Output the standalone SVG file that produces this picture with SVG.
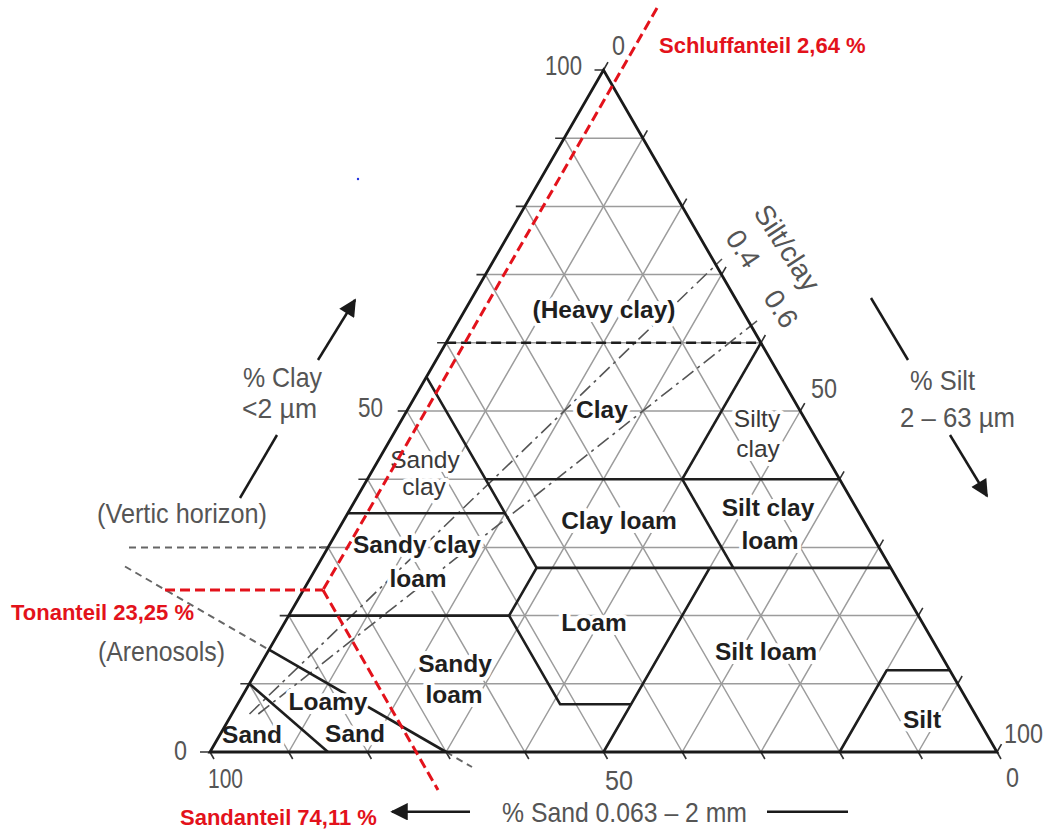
<svg xmlns="http://www.w3.org/2000/svg" width="1049" height="832" viewBox="0 0 1049 832">
<defs>
<style>
.grid{stroke:#9c9c9c;stroke-width:1.5;fill:none}
.tick{stroke:#333;stroke-width:1.6;fill:none}
.bnd{stroke:#1e1e1e;stroke-width:2.6;fill:none;stroke-linejoin:round}
.outline{stroke:#1a1a1a;stroke-width:2.8;fill:none;stroke-linejoin:miter}
.gdash{stroke:#666;stroke-width:2;stroke-dasharray:7 5;fill:none}
.dashdot{stroke:#555;stroke-width:1.6;stroke-dasharray:14 5 3 5;fill:none}
.red{stroke:#e3121b;stroke-width:3;stroke-dasharray:10 5;fill:none}
.arrow{stroke:#1a1a1a;stroke-width:2.5;fill:none}
.lbl{font-family:"Liberation Sans",Arial,sans-serif;font-weight:bold;font-size:24.5px;fill:#1f1f1f;text-anchor:middle;stroke:#fff;stroke-width:8;stroke-linejoin:round;paint-order:stroke}
.lblr{font-family:"Liberation Sans",Arial,sans-serif;font-size:24.5px;fill:#3a3a3a;text-anchor:middle;stroke:#fff;stroke-width:8;stroke-linejoin:round;paint-order:stroke}
.ax{font-family:"Liberation Sans",Arial,sans-serif;font-size:28px;fill:#555}
.rt{font-family:"Liberation Sans",Arial,sans-serif;font-weight:bold;font-size:22px;fill:#e3121b}
</style>
<marker id="ah" viewBox="0 0 10 10" refX="9" refY="5" markerWidth="8.5" markerHeight="7" orient="auto">
<path d="M0,0 L10,5 L0,10 z" fill="#1a1a1a"/>
</marker>
</defs>
<rect width="1049" height="832" fill="#fff"/>

<g id="grid" class="grid">
<path d="M249.35,683.8H957.65M288.7,615.6H918.3M328.05,547.4H878.95M367.4,479.2H839.6M406.75,411H800.25M446.1,342.8H760.9M485.45,274.6H721.55M524.8,206.4H682.2M564.15,138.2H642.85"/>
<path d="M918.3,752L564.15,138.2M839.6,752L524.8,206.4M760.9,752L485.45,274.6M682.2,752L446.1,342.8M603.5,752L406.75,411M524.8,752L367.4,479.2M446.1,752L328.05,547.4M367.4,752L288.7,615.6M288.7,752L249.35,683.8"/>
<path d="M288.7,752L642.85,138.2M367.4,752L682.2,206.4M446.1,752L721.55,274.6M524.8,752L760.9,342.8M603.5,752L800.25,411M682.2,752L839.6,479.2M760.9,752L878.95,547.4M839.6,752L918.3,615.6M918.3,752L957.65,683.8"/>
</g>

<g id="ticks" class="tick">
<path d="M210,752h-10M249.35,683.8h-9M288.7,615.6h-9M328.05,547.4h-9M367.4,479.2h-9M406.75,411h-9M446.1,342.8h-9M485.45,274.6h-9M524.8,206.4h-9M564.15,138.2h-9M603.5,70h-9"/>
<path d="M603.5,70l4.5,-7.8M642.85,138.2l4.5,-7.8M682.2,206.4l4.5,-7.8M721.55,274.6l4.5,-7.8M760.9,342.8l4.5,-7.8M800.25,411l4.5,-7.8M839.6,479.2l4.5,-7.8M878.95,547.4l4.5,-7.8M918.3,615.6l4.5,-7.8M957.65,683.8l4.5,-7.8M997,752l4.5,-7.8"/>
<path d="M997,752l4,7M918.3,752l4,7M839.6,752l4,7M760.9,752l4,7M682.2,752l4,7M603.5,752l4,7M524.8,752l4,7M446.1,752l4,7M367.4,752l4,7M288.7,752l4,7M210,752l4,7"/>
</g>

<g id="reference-lines">
<line class="gdash" x1="129" y1="547.4" x2="330" y2="547.4"/>
<line class="gdash" x1="125" y1="566.5" x2="269" y2="649.7"/>
<line class="gdash" x1="446.1" y1="752" x2="472" y2="767"/>
<line class="dashdot" x1="249.5" y1="714" x2="722" y2="259"/>
<line class="dashdot" x1="258.3" y1="714" x2="757.4" y2="320.7"/>
</g>

<g id="connectors">
<line class="bnd" x1="446.1" y1="342.8" x2="760.9" y2="342.8" stroke-dasharray="10 5" stroke-width="3"/>
<polyline class="bnd" points="426.4,376.9 485.5,479.2 505.1,513.3 536.6,567.9 509.1,615.6 560.2,704.3 631,704.3"/>
<line class="bnd" x1="485.5" y1="479.2" x2="839.6" y2="479.2"/>
<line class="bnd" x1="760.9" y1="342.8" x2="682.2" y2="479.2"/>
<line class="bnd" x1="682.2" y1="479.2" x2="733.3" y2="567.9"/>
<line class="bnd" x1="347.7" y1="513.3" x2="505.1" y2="513.3"/>
<line class="bnd" x1="536.6" y1="567.9" x2="890.7" y2="567.9"/>
<line class="bnd" x1="288.7" y1="615.6" x2="509.1" y2="615.6"/>
<polyline class="bnd" points="709.7,567.9 631,704.3 603.5,752"/>
<polyline class="bnd" points="839.6,752 886.8,670.2 949.8,670.2"/>
<line class="bnd" x1="269" y1="649.7" x2="446.1" y2="752"/>
<line class="bnd" x1="249.4" y1="683.8" x2="328" y2="752"/>
</g>

<g id="heavy-clay"><text class="lbl" x="604" y="318">(Heavy clay)</text></g>
<g id="clay"><text class="lbl" x="602" y="418">Clay</text></g>
<g id="silty-clay"><text class="lblr" x="757" y="427">Silty</text><text class="lblr" x="758" y="457">clay</text></g>
<g id="sandy-clay"><text class="lblr" x="425" y="468">Sandy</text><text class="lblr" x="424" y="495">clay</text></g>
<g id="sandy-clay-loam"><text class="lbl" x="417" y="553">Sandy clay</text><text class="lbl" x="418" y="587">loam</text></g>
<g id="clay-loam"><text class="lbl" x="619" y="529">Clay loam</text></g>
<g id="silt-clay-loam"><text class="lbl" x="768" y="516">Silt clay</text><text class="lbl" x="770" y="549">loam</text></g>
<g id="loam"><text class="lbl" x="594" y="631">Loam</text></g>
<g id="silt-loam"><text class="lbl" x="766" y="660">Silt loam</text></g>
<g id="sandy-loam"><text class="lbl" x="455" y="672">Sandy</text><text class="lbl" x="454" y="703">loam</text></g>
<g id="loamy-sand"><text class="lbl" x="328" y="710">Loamy</text><text class="lbl" x="355" y="742">Sand</text></g>
<g id="sand"><text class="lbl" x="252" y="743">Sand</text></g>
<g id="silt"><text class="lbl" x="922" y="728">Silt</text></g>

<g id="triangle"><path class="outline" d="M210,752 L603.5,70 L997,752 Z"/></g>

<g id="axis-labels">
<text class="ax" x="545" y="75" textLength="37" lengthAdjust="spacingAndGlyphs">100</text>
<text class="ax" x="612" y="55" textLength="13" lengthAdjust="spacingAndGlyphs">0</text>
<text class="ax" x="358" y="417" textLength="25" lengthAdjust="spacingAndGlyphs">50</text>
<text class="ax" x="811" y="398" textLength="26" lengthAdjust="spacingAndGlyphs">50</text>
<text class="ax" x="174" y="760" textLength="13" lengthAdjust="spacingAndGlyphs">0</text>
<text class="ax" x="208" y="788" textLength="35" lengthAdjust="spacingAndGlyphs">100</text>
<text class="ax" x="605" y="790" textLength="28" lengthAdjust="spacingAndGlyphs">50</text>
<text class="ax" x="1006" y="787" textLength="13" lengthAdjust="spacingAndGlyphs">0</text>
<text class="ax" x="1004" y="743" textLength="39" lengthAdjust="spacingAndGlyphs">100</text>
<text class="ax" x="243" y="387" font-size="24" textLength="79" lengthAdjust="spacingAndGlyphs">% Clay</text>
<text class="ax" x="242" y="418" font-size="24" textLength="75" lengthAdjust="spacingAndGlyphs">&lt;2 µm</text>
<text class="ax" x="910" y="390" textLength="65" lengthAdjust="spacingAndGlyphs">% Silt</text>
<text class="ax" x="900" y="427" textLength="115" lengthAdjust="spacingAndGlyphs">2 – 63 µm</text>
<text class="ax" x="97" y="523" textLength="170" lengthAdjust="spacingAndGlyphs">(Vertic horizon)</text>
<text class="ax" x="98" y="661" textLength="127" lengthAdjust="spacingAndGlyphs">(Arenosols)</text>
<text class="ax" x="502" y="822" textLength="245" lengthAdjust="spacingAndGlyphs">% Sand 0.063 – 2 mm</text>
<text class="ax" font-size="25" text-anchor="middle" transform="translate(779,253) rotate(57)">Silt/clay</text>
<text class="ax" font-size="25" text-anchor="middle" transform="translate(735,254) rotate(57)">0.4</text>
<text class="ax" font-size="25" text-anchor="middle" transform="translate(773,314) rotate(57)">0.6</text>
</g>

<g id="axis-arrows">
<line class="arrow" x1="240" y1="498" x2="277" y2="435"/>
<line class="arrow" x1="318" y1="360" x2="355" y2="300" marker-end="url(#ah)"/>
<line class="arrow" x1="871" y1="298" x2="908" y2="360"/>
<line class="arrow" x1="950" y1="435" x2="987" y2="496" marker-end="url(#ah)"/>
<line class="arrow" x1="470" y1="811.7" x2="392" y2="811.7" marker-end="url(#ah)"/>
<line class="arrow" x1="767" y1="811.7" x2="848" y2="811.7"/>
</g>

<circle cx="358" cy="179" r="1.2" fill="#2030e0"/>

<g id="red-reading">
<line class="red" x1="657" y1="8" x2="323" y2="590"/>
<line class="red" x1="165" y1="590" x2="323" y2="590"/>
<line class="red" x1="323" y1="590" x2="438" y2="790"/>
<text class="rt" x="659" y="53">Schluffanteil 2,64 %</text>
<text class="rt" x="11" y="620">Tonanteil 23,25 %</text>
<text class="rt" x="180" y="825">Sandanteil 74,11 %</text>
</g>
</svg>
